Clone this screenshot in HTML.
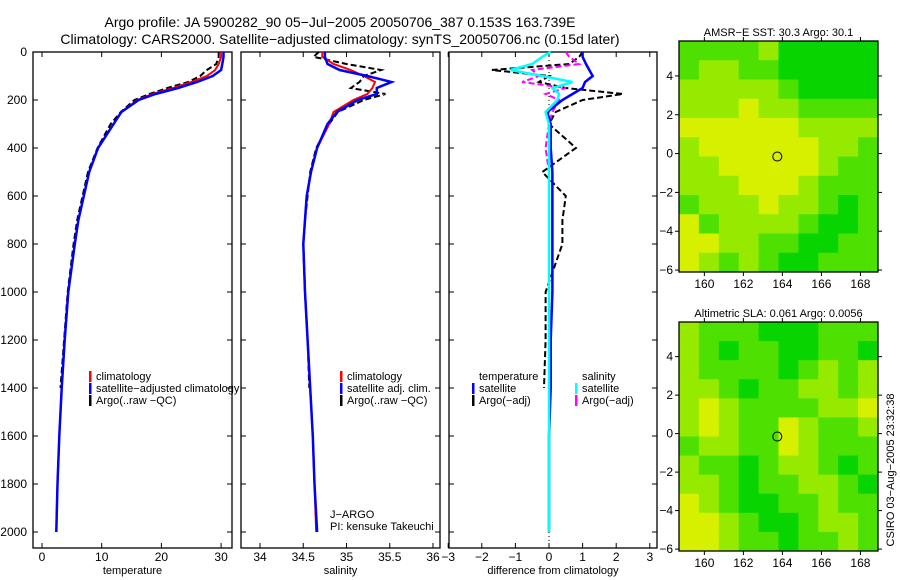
<!DOCTYPE html>
<html><head><meta charset="utf-8"><style>
html,body{margin:0;padding:0;background:#fff;}
svg{display:block;font-family:"Liberation Sans",sans-serif;}
text{fill:#000;}
</style></head><body>
<svg id="fig" width="900" height="580" viewBox="0 0 900 580" xmlns="http://www.w3.org/2000/svg">
<text x="340" y="27" font-size="14" text-anchor="middle">Argo profile: JA 5900282_90 05−Jul−2005 20050706_387 0.153S 163.739E</text>
<text x="340" y="44" font-size="14" text-anchor="middle">Climatology: CARS2000. Satellite−adjusted climatology: synTS_20050706.nc (0.15d later)</text>
<g id="g1"></g>
<g id="g2"></g>
<g id="g3"></g>
<g id="m1"></g>
<g id="m2"></g>
<text transform="translate(894,470) rotate(-90)" font-size="11" text-anchor="middle">CSIRO 03−Aug−2005 23:32:38</text>
</svg>
<script>
const depths = [0,20,50,75,100,125,150,175,200,250,300,400,500,600,700,800,1000,1200,1400,1600,1800,2000];
const tempClim = [30,30,29.6,29,27.6,25,22,18.5,16,13.3,12,9.4,7.9,7,6.1,5.5,4.4,3.8,3.3,2.9,2.6,2.4];
const tempSat  = [30.4,30.4,30.2,30,28.6,26,22.8,19,16.2,13.3,12,9.4,7.9,7,6.1,5.5,4.4,3.8,3.3,2.9,2.6,2.4];
const tempArgo = [29.6,29.6,29.2,27.6,26.5,24.5,21,18,15.5,13.2,11.5,9.3,7.7,6.8,5.9,5.3,4.3,3.7,3.1,null,null,null];
const salClim = [34.72,34.72,34.85,35.05,35.2,35.33,35.3,35.24,35.08,34.85,34.8,34.66,34.59,34.54,34.52,34.5,34.52,34.55,34.58,34.61,34.63,34.65];
const salSat  = [34.75,34.75,34.78,34.92,35.24,35.52,35.35,35.35,35.13,34.89,34.78,34.66,34.59,34.54,34.52,34.5,34.52,34.55,34.58,34.61,34.63,34.66];
const salArgo = [34.68,34.62,35.0,35.4,35.2,35.15,35.05,35.45,35.2,34.9,34.8,34.65,34.58,34.55,34.52,34.5,34.52,34.55,34.57,null,null,null];
const dTempSat  = [1.0,1.0,1.1,1.2,1.3,1.07,1.0,0.7,0.4,-0.05,0.05,0.05,0.1,0.1,0.1,0.1,0.1,0.05,0.05,0.0,0.0,0.0];
const dTempArgo = [1.0,0.9,0.6,-1.7,0.0,-0.3,0.5,2.2,1.0,0.2,0.0,0.8,-0.2,0.5,0.4,0.4,-0.1,-0.1,-0.15,null,null,null];
const dSalSat   = [0.05,-0.2,-0.5,-1.15,-0.2,0.7,0.1,0.3,0.25,-0.1,0.0,0.0,0.0,0.0,0.0,0.0,0.0,0.0,0.0,0.0,0.0,0.0];
const dSalArgo  = [0.5,0.6,0.9,-0.5,-0.3,-0.8,0.5,-0.1,0.3,0.1,0.0,-0.1,0.0,0.0,0.0,0.0,0.0,0.0,0.0,null,null,null];
const depthTicks = [0,200,400,600,800,1000,1200,1400,1600,1800,2000];
const tempTicks = [0,10,20,30];
const salTicks = [34,34.5,35,35.5,36];
const salTickLabels = ["34","34.5","35","35.5","36"];
const diffTicks = [-3,-2,-1,0,1,2,3];
const lonTicks = [160,162,164,166,168];
const latTicks = [4,2,0,-2,-4,-6];
const sstGrid = [
"2222133333","2112233333","1111123333","1110112222","0000001111","1000000112",
"1100000122","1110001222","2111011232","0211112332","0011223322","0121233222"];
const slaGrid = [
"1222333222","1232233223","1222232121","1123221121","1012222110","1012201221",
"2112201222","1223211232","1123221123","0123322122","0012332112","0012232212"];
const argoLon = 163.739, argoLat = -0.153;

const NS="http://www.w3.org/2000/svg";
function mk(parent,tag,attrs,txt){const e=document.createElementNS(NS,tag);for(const k in attrs)e.setAttribute(k,attrs[k]);if(txt!==undefined)e.textContent=txt;parent.appendChild(e);return e;}
const yTop=52, yScale=0.24;
const yD = d => yTop + d*yScale;

function panel(g, x0, x1, xf, xticks, xlabels, title, showY){
  const frame=mk(g,'rect',{x:x0,y:yTop,width:x1-x0,height:496,fill:'none',stroke:'#000','stroke-width':1.3});
  
  
  depthTicks.forEach(d=>{
    const y=yD(d);
    mk(g,'line',{x1:x0,y1:y,x2:x0+5,y2:y,stroke:'#000'});
    mk(g,'line',{x1:x1,y1:y,x2:x1-5,y2:y,stroke:'#000'});
    if(showY){const t=mk(g,'text',{x:x0-6,y:y+4,'font-size':12,'text-anchor':'end'},String(d));
      
      }
  });
  xticks.forEach((v,i)=>{
    const x=xf(v);
    mk(g,'line',{x1:x,y1:548,x2:x,y2:543,stroke:'#000'});
    mk(g,'line',{x1:x,y1:yTop,x2:x,y2:yTop+5,stroke:'#000'});
    const t=mk(g,'text',{x:x,y:561,'font-size':12,'text-anchor':'middle'},xlabels[i]);
    
    
  });
  const tt=mk(g,'text',{x:(x0+x1)/2,y:574,'font-size':11,'text-anchor':'middle'},title);
  
  
}
function series(g, vals, xf, color, w, dash, name){
  let d='', pen=false;
  vals.forEach((v,i)=>{ if(v===null){pen=false;return;} d+=(pen?'L':'M')+xf(v).toFixed(1)+' '+yD(depths[i]).toFixed(1)+' '; pen=true;});
  const p=mk(g,'path',{d:d,fill:'none',stroke:color,'stroke-width':w});
  if(dash)p.setAttribute('stroke-dasharray',dash);
  
  
}
function legend(g,x,y,items){
  items.forEach((it,i)=>{
    const yy=y+i*12;
    if(it[1]) mk(g,'rect',{x:x,y:yy-9,width:2.5,height:11,fill:it[1]});
    const t=mk(g,'text',{x:x+7,y:yy,'font-size':11},it[0]);
    
    
  });
}
// Temperature
const g1=document.getElementById('g1');
const xT=v=>42+v*5.97;
panel(g1,33,232,xT,tempTicks,tempTicks.map(String),'temperature',true);
series(g1,tempArgo,xT,'#000',2,'6,3','argo-temperature-line');
series(g1,tempClim,xT,'#f00',2,null,'climatology-temperature-line');
series(g1,tempSat,xT,'#00f',2.5,null,'satellite-temperature-line');
legend(g1,89,380,[['climatology','#f00'],['satellite−adjusted climatology','#00f'],['Argo(..raw −QC)','#000']]);
// Salinity
const g2=document.getElementById('g2');
const xS=v=>260+(v-34)*86.5;
panel(g2,241,440,xS,salTicks,salTickLabels,'salinity',false);
series(g2,salArgo,xS,'#000',2,'6,3','argo-salinity-line');
series(g2,salClim,xS,'#f00',2,null,'climatology-salinity-line');
series(g2,salSat,xS,'#00f',2.5,null,'satellite-salinity-line');
legend(g2,340,380,[['climatology','#f00'],['satellite adj. clim.','#00f'],['Argo(..raw −QC)','#000']]);
const pi1=mk(g2,'text',{x:330,y:518,'font-size':11},'J−ARGO');

const pi2=mk(g2,'text',{x:330,y:530,'font-size':11},'PI: kensuke Takeuchi');

// Difference
const g3=document.getElementById('g3');
const xDf=v=>549+v*33.6;
panel(g3,449,657,xDf,diffTicks,diffTicks.map(v=>v<0?'−'+(-v):String(v)),'difference from climatology',false);
mk(g3,'line',{x1:xDf(0),y1:yTop,x2:xDf(0),y2:548,stroke:'#000','stroke-dasharray':'1,3'});
series(g3,dTempArgo,xDf,'#000',2,'6,3','argo-temperature-difference-line');
series(g3,dSalArgo,xDf,'#f0f',2,'6,3','argo-salinity-difference-line');
series(g3,dTempSat,xDf,'#00f',2.5,null,'satellite-temperature-difference-line');
series(g3,dSalSat,xDf,'#0ff',2.5,null,'satellite-salinity-difference-line');
legend(g3,472,380,[['temperature',null],['satellite','#00f'],['Argo(−adj)','#000']]);
legend(g3,575,380,[['salinity',null],['satellite','#0ff'],['Argo(−adj)','#f0f']]);
// Maps
const palette=['#d6f000','#96ea00','#4ee000','#08d400'];
function map(g,y0,y1,latTop,grid,title){
  const x0=679,x1=878,lonL=158.7,lonR=168.9,latBot=-6.1;
  const xf=v=>x0+(v-lonL)/(lonR-lonL)*(x1-x0);
  const yf=v=>y0+(latTop-v)/(latTop-latBot)*(y1-y0);
  const rows=grid.length, cols=grid[0].length, cw=(x1-x0)/cols, ch=(y1-y0)/rows;
  grid.forEach((row,r)=>{for(let c=0;c<cols;c++){
    const cell=mk(g,'rect',{x:x0+c*cw,y:y0+r*ch,width:cw+0.5,height:ch+0.5,fill:palette[+row[c]]});
    
    
  }});
  mk(g,'rect',{x:x0,y:y0,width:x1-x0,height:y1-y0,fill:'none',stroke:'#000','stroke-width':1.3});
  lonTicks.forEach(v=>{const x=xf(v);mk(g,'line',{x1:x,y1:y1,x2:x,y2:y1+4,stroke:'#000'});mk(g,'line',{x1:x,y1:y0,x2:x,y2:y0-4,stroke:'#000'});
    const t=mk(g,'text',{x:x,y:y1+16,'font-size':12,'text-anchor':'middle'},String(v));
    });
  latTicks.forEach(v=>{const y=yf(v);mk(g,'line',{x1:x0,y1:y,x2:x0-4,y2:y,stroke:'#000'});mk(g,'line',{x1:x1,y1:y,x2:x1+4,y2:y,stroke:'#000'});
    const t=mk(g,'text',{x:x0-6,y:y+4,'font-size':12,'text-anchor':'end'},v<0?'−'+(-v):String(v));
    });
  const m=mk(g,'circle',{cx:xf(argoLon),cy:yf(argoLat),r:4.5,fill:'none',stroke:'#000'});
  
  const t=mk(g,'text',{x:(x0+x1)/2,y:y0-5,'font-size':11,'text-anchor':'middle'},title);
  
}
map(document.getElementById('m1'),41,272,5.8,sstGrid,'AMSR−E SST: 30.3 Argo: 30.1');
map(document.getElementById('m2'),322,551,5.8,slaGrid,'Altimetric SLA: 0.061 Argo: 0.0056');
</script>
</body></html>
